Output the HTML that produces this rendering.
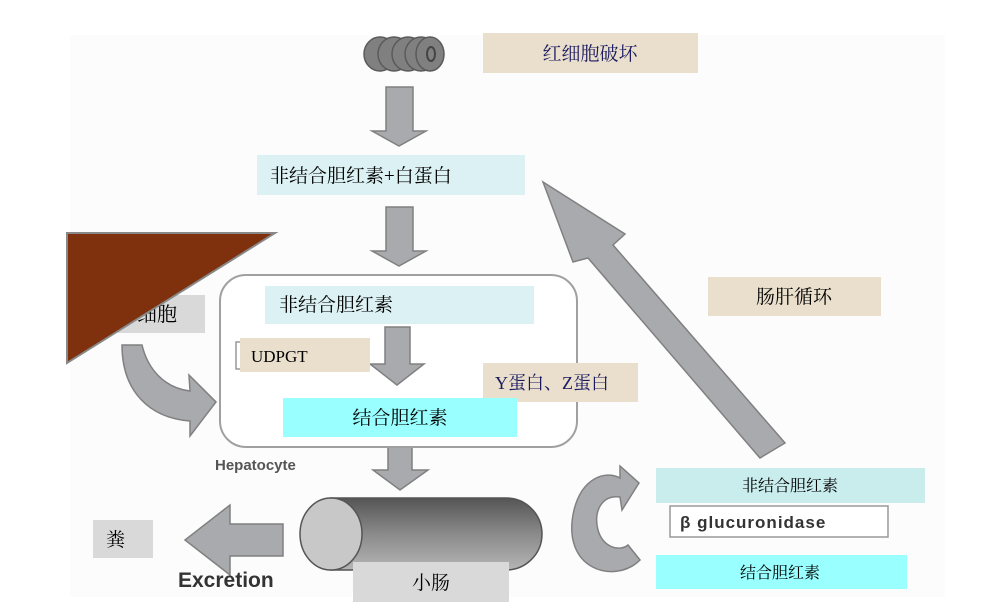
<!DOCTYPE html>
<html><head><meta charset="utf-8"><style>
body{margin:0;background:#fff;}
svg{display:block;}
.cn{font-family:"Liberation Serif","Noto Serif CJK SC","Noto Sans CJK SC",serif;}
</style></head><body>
<svg width="985" height="612" viewBox="0 0 985 612" xmlns="http://www.w3.org/2000/svg">
<rect x="70" y="35" width="875" height="562" fill="#fcfcfc"/>
<g fill="#808080" stroke="#5a5a5a" stroke-width="1.5">
<ellipse cx="380" cy="54" rx="16" ry="17"/><ellipse cx="394" cy="54" rx="16" ry="17"/><ellipse cx="408" cy="54" rx="16" ry="17"/><ellipse cx="421" cy="54" rx="16" ry="17"/><ellipse cx="430" cy="54" rx="14" ry="17"/>
</g>
<ellipse cx="431" cy="54" rx="4" ry="7" fill="none" stroke="#444" stroke-width="2"/>
<rect x="483" y="33" width="215" height="40" fill="#e9dfcc"/>
<text x="590" y="60" font-size="19" fill="#1a1a60" text-anchor="middle" class="cn">红细胞破坏</text>
<g fill="#a9aaad" stroke="#808080" stroke-width="1.5">
<polygon points="386,87 413,87 413,131 426,131 399,146 372,131 386,131"/>
<polygon points="386,207 413,207 413,251 426,251 399,266 372,251 386,251"/>
<polygon points="388,437 412,437 412,470 428,470 400,490 373,470 388,470"/>
<polygon points="283,524 283,556 230,556 230,575 185,540 230,505 230,524"/>
<polygon points="543,182 625,234 613,245 785,443 760,458 588,258 573,262"/>
<path d="M640,560 C615,585 560,570 574,510 C582,478 605,470 620,478 L620,466 L639,483 L622,510 L620,497 C602,495 595,510 597,525 C600,548 620,552 628,545 Z"/>
<path d="M122,345 L142,345 C148,370 165,388 190,391 L189,375 L216,402 L190,436 L190,421 C150,418 122,392 122,345 Z"/>
</g>
<rect x="257" y="155" width="268" height="40" fill="#dbf1f3"/>
<text x="270" y="182" font-size="19" fill="#000" class="cn">非结合胆红素+白蛋白</text>
<rect x="220" y="275" width="357" height="172" rx="26" fill="#fff" stroke="#a0a0a0" stroke-width="2"/>
<polygon points="385,327 410,327 410,364 424,364 397,385 370,364 385,364" fill="#a9aaad" stroke="#808080" stroke-width="1.5"/>
<rect x="265" y="286" width="269" height="38" fill="#dbf1f3"/>
<text x="279" y="311" font-size="19" fill="#000" class="cn">非结合胆红素</text>
<rect x="236" y="342" width="84" height="27" fill="#fff" stroke="#999" stroke-width="1.5"/>
<rect x="240" y="338" width="130" height="34" fill="#e9dfcc"/>
<text x="251" y="362" font-size="17" fill="#000" font-family="Liberation Serif,serif">UDPGT</text>
<rect x="483" y="363" width="155" height="39" fill="#e9dfcc"/>
<text x="495" y="389" font-size="18" fill="#1a1a60" class="cn">Y蛋白、Z蛋白</text>
<rect x="283" y="398" width="234" height="39" fill="#99ffff"/>
<text x="400" y="424" font-size="19" fill="#000" text-anchor="middle" class="cn">结合胆红素</text>
<text x="215" y="470" font-size="15" font-weight="bold" fill="#555" font-family="Liberation Sans,sans-serif">Hepatocyte</text>
<rect x="118" y="295" width="87" height="38" fill="#d9d9d9"/>
<text x="117" y="321" font-size="20" fill="#000" class="cn">肝细胞</text>
<polygon points="67,233 275,233 67,363" fill="#7f300c" stroke="#888" stroke-width="2"/>
<defs><linearGradient id="cy" x1="0" y1="0" x2="0" y2="1"><stop offset="0" stop-color="#555"/><stop offset="0.5" stop-color="#8a8a8a"/><stop offset="1" stop-color="#b5b5b5"/></linearGradient></defs>
<path d="M331,498 L506,498 A36,36 0 0 1 506,570 L331,570 Z" fill="url(#cy)" stroke="#555" stroke-width="1.5"/>
<ellipse cx="331" cy="534" rx="31" ry="36" fill="#c8c8c8" stroke="#555" stroke-width="1.5"/>
<rect x="93" y="520" width="60" height="38" fill="#d9d9d9"/>
<text x="106" y="546" font-size="19" fill="#000" class="cn">粪</text>
<text x="178" y="587" font-size="21" font-weight="bold" fill="#333" font-family="Liberation Sans,sans-serif">Excretion</text>
<rect x="353" y="562" width="156" height="40" fill="#d9d9d9"/>
<text x="431" y="589" font-size="19" fill="#000" text-anchor="middle" class="cn">小肠</text>
<rect x="708" y="277" width="173" height="39" fill="#e9dfcc"/>
<text x="794" y="303" font-size="19" fill="#000" text-anchor="middle" class="cn">肠肝循环</text>
<rect x="656" y="468" width="269" height="35" fill="#c9ecec"/>
<text x="790" y="491" font-size="16" fill="#000" text-anchor="middle" class="cn">非结合胆红素</text>
<rect x="670" y="506" width="218" height="31" fill="#fff" stroke="#999" stroke-width="1.5"/>
<text x="680" y="528" font-size="17" font-weight="bold" fill="#333" font-family="Liberation Sans,sans-serif" letter-spacing="1">β glucuronidase</text>
<rect x="656" y="555" width="251" height="34" fill="#99ffff"/>
<text x="780" y="578" font-size="16" fill="#000" text-anchor="middle" class="cn">结合胆红素</text>
</svg>
</body></html>
